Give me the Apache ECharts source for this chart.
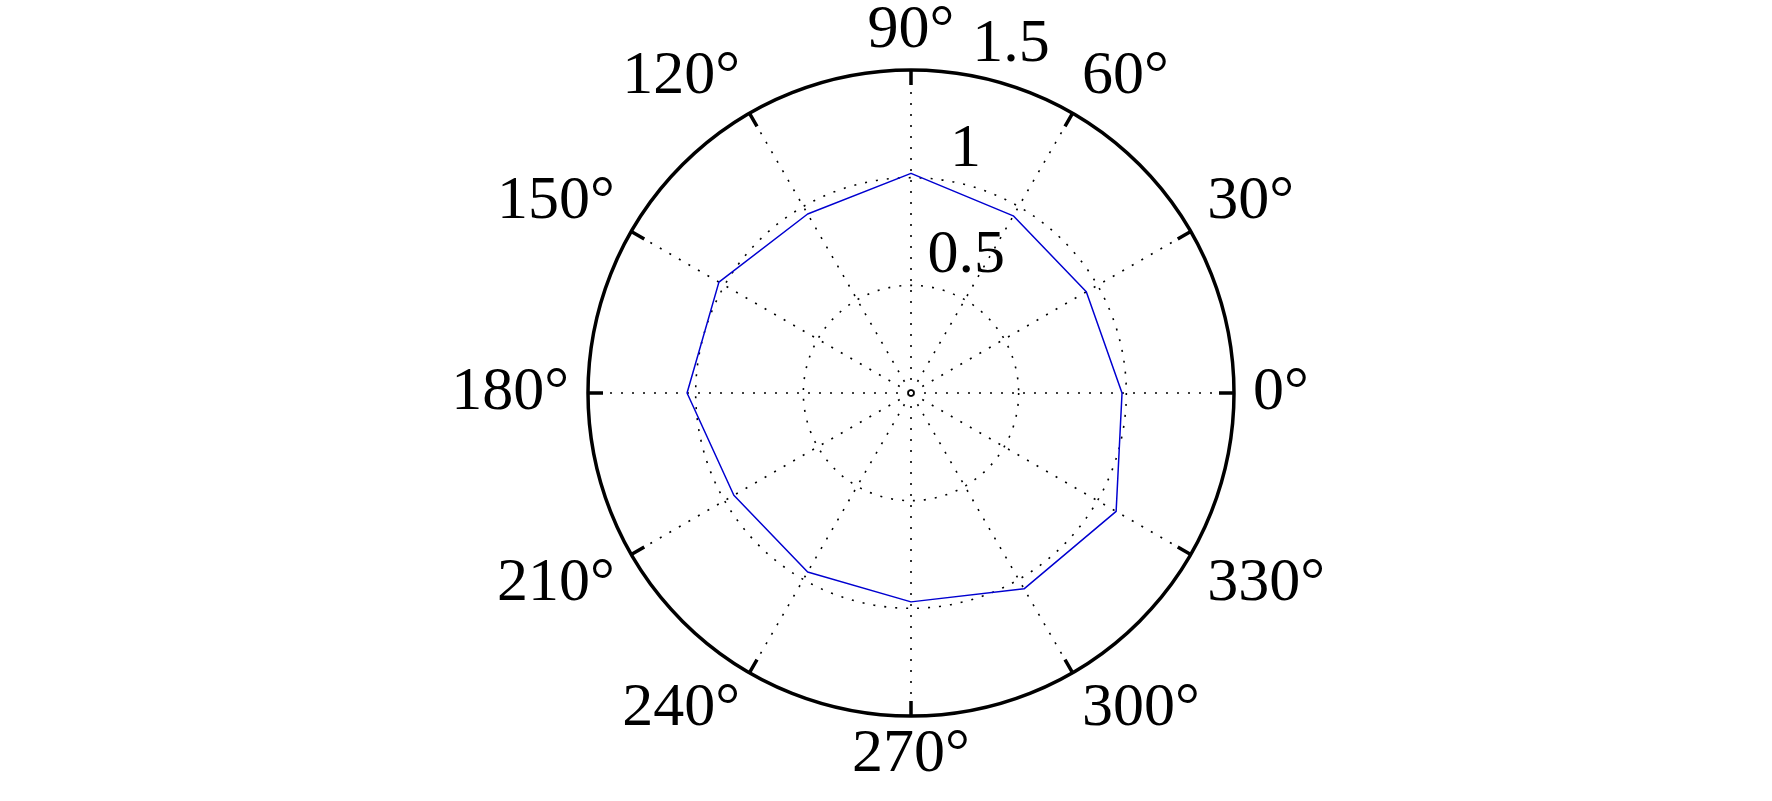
<!DOCTYPE html>
<html>
<head>
<meta charset="utf-8">
<script src="https://cdn.jsdelivr.net/npm/echarts@6/dist/echarts.min.js"></script>
<style>
html,body{margin:0;padding:0;background:#fff;}
#chart{width:1772px;height:801px;}
</style>
</head>
<body>
<div id="chart"></div>
<script>
// Data (angle in degrees, radius value)
const angles = [0, 30, 60, 90, 120, 150, 180, 210, 240, 270, 300, 330, 360];
const radii  = [0.98, 0.94, 0.95, 1.02, 0.96, 1.03, 1.04, 0.95, 0.96, 0.97, 1.05, 1.10, 0.98];
// Axis ticks
const angleTicks = [0, 30, 60, 90, 120, 150, 180, 210, 240, 270, 300, 330];
const radialTickLabels = ['0.5', '1', '1.5'];
const radialMax = 1.5;
const radialStep = 0.5;

const FONT = '"Liberation Serif", "Times New Roman", serif';
const chart = echarts.init(document.getElementById('chart'));
const center = [911, 393];
const R = 323;
const dotted = [2, 9];

chart.setOption({
  backgroundColor: '#ffffff',
  animation: false,
  polar: [
    {center: center, radius: R},
    {center: center, radius: R}
  ],
  angleAxis: [
    {
      polarIndex: 0,
      type: 'value', min: 0, max: 360, interval: 30,
      startAngle: 0, clockwise: false,
      axisLine: {show: true, lineStyle: {color: '#000', width: 3.5}},
      axisTick: {show: true, inside: true, length: 15, lineStyle: {color: '#000', width: 3.5}},
      splitLine: {show: true, lineStyle: {color: '#000', width: 1.6, type: dotted}},
      axisLabel: {
        show: true, margin: 19, color: '#000',
        fontFamily: FONT, fontSize: 62, lineHeight: 40,
        formatter: function (v) { return angleTicks.indexOf(v) >= 0 ? v + '°' : ''; }
      }
    },
    {
      polarIndex: 1,
      type: 'value', min: 0, max: 360, startAngle: 78, clockwise: false, show: false
    }
  ],
  radiusAxis: [
    {
      polarIndex: 0,
      type: 'value', min: 0, max: radialMax, interval: radialStep,
      axisLine: {show: false}, axisTick: {show: false}, axisLabel: {show: false},
      splitLine: {show: true, lineStyle: {color: '#000', width: 1.6, type: dotted}}
    },
    {
      polarIndex: 1,
      type: 'value', min: 0, max: radialMax, interval: radialStep,
      axisLine: {show: false}, axisTick: {show: false}, splitLine: {show: false},
      axisLabel: {
        show: true, color: '#000', fontFamily: FONT, fontSize: 62, margin: 6,
        align: 'left', verticalAlign: 'bottom',
        formatter: function (v) {
          const i = Math.round(v / radialStep) - 1;
          return i >= 0 && i < radialTickLabels.length ? radialTickLabels[i] : '';
        }
      }
    }
  ],
  series: [{
    type: 'line',
    coordinateSystem: 'polar',
    polarIndex: 0,
    symbol: 'none',
    lineStyle: {color: '#0000d0', width: 1.5},
    data: radii.map(function (r, i) { return [r, angles[i]]; }),
    z: 5
  }]
});
</script>
</body>
</html>
